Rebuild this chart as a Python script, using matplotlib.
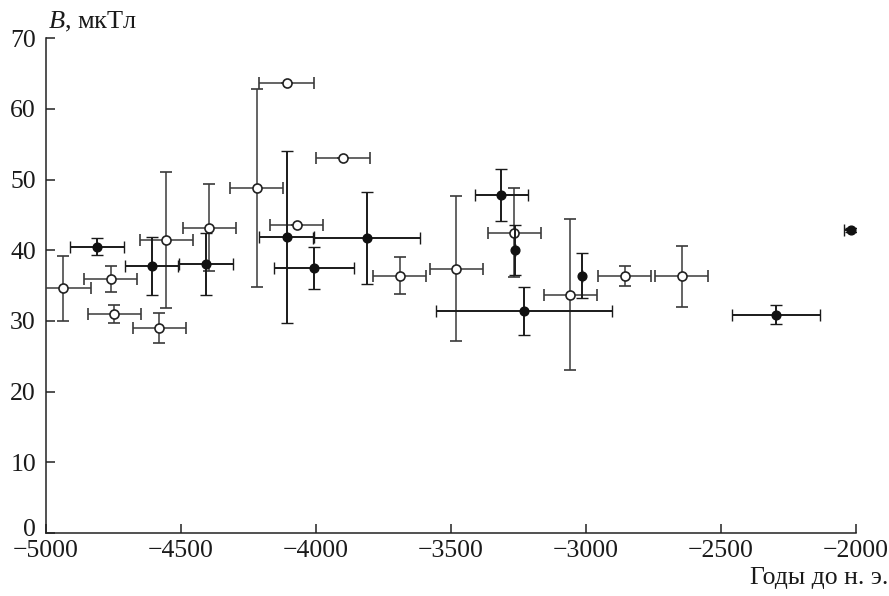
import matplotlib
matplotlib.use('Agg')
import matplotlib.pyplot as plt
import matplotlib.transforms as mtransforms

plt.rcParams['font.family'] = 'Liberation Serif'
plt.rcParams['mathtext.fontset'] = 'custom'
plt.rcParams['mathtext.it'] = 'Liberation Serif:italic'
plt.rcParams['mathtext.rm'] = 'Liberation Serif'

# Field strength estimates, filled symbols
filled_x = [-4810, -4607, -4408, -4108, -4007, -3812, -3313, -3263, -3229, -3015, -2296, -2018]
filled_xerr = [100, 98, 100, 102, 149, 197, 98, 0, 325, 0, 162, 25]
filled_y = [40.5, 37.8, 38.1, 41.9, 37.5, 41.7, 47.8, 40.0, 31.4, 36.4, 30.9, 42.9]
filled_yerr = [1.2, 4.1, 4.4, 12.2, 3.0, 6.5, 3.7, 3.5, 3.4, 3.2, 1.3, 0.3]

# Field strength estimates, open symbols
open_x = [-4937, -4759, -4746, -4580, -4553, -4395, -4218, -4108, -4071, -3899,
          -3690, -3480, -3266, -3059, -2856, -2646]
open_xerr = [104, 98, 98, 98, 97, 98, 98, 102, 98, 100, 98, 98, 98, 98, 98, 99]
open_y = [34.6, 35.9, 31.0, 29.0, 41.4, 43.2, 48.8, 63.7, 43.5, 53.1,
          36.4, 37.4, 42.5, 33.7, 36.4, 36.3]
open_yerr = [4.6, 1.8, 1.3, 2.15, 9.6, 6.1, 14.0, 0, 0, 0,
             2.6, 10.3, 6.3, 10.7, 1.4, 4.3]

x_ticks = [-5000, -4500, -4000, -3500, -3000, -2500, -2000]
y_ticks = [0, 10, 20, 30, 40, 50, 60, 70]

fig = plt.figure(figsize=(8.89, 5.96), dpi=100)
ax = fig.add_axes([0.0514, 0.1057, 0.9116, 0.8303])

ax.errorbar(open_x, open_y, xerr=open_xerr, yerr=open_yerr, fmt='o',
            ms=6.5, mfc='white', mec='#222222', mew=1.2,
            ecolor='#3a3a3a', elinewidth=1.1, capsize=4.3, capthick=1.1, zorder=3)
ax.errorbar(filled_x, filled_y, xerr=filled_xerr, yerr=filled_yerr, fmt='o',
            ms=6.3, mfc='#111111', mec='#111111', mew=1.0,
            ecolor='#1a1a1a', elinewidth=1.4, capsize=4.3, capthick=1.4, zorder=4)

ax.set_xlim(-5000, -2000)
ax.set_ylim(0, 70)
ax.set_xticks(x_ticks)
ax.set_yticks(y_ticks)

for side in ['top', 'right']:
    ax.spines[side].set_visible(False)
for side in ['left', 'bottom']:
    ax.spines[side].set_linewidth(1.1)
    ax.spines[side].set_color('#222222')

ax.tick_params(direction='in', length=6.5, width=1.1, color='#222222',
               labelsize=18.5, labelcolor='#1a1a1a')
ax.tick_params(axis='y', pad=7)
ax.tick_params(axis='x', pad=5)

# nudge the zero label up so it clears the -5000 label
zero_lbl = ax.get_yticklabels()[0]
zero_lbl.set_transform(zero_lbl.get_transform() +
                       mtransforms.ScaledTranslation(0, 6 / 100, fig.dpi_scale_trans))

fig.text(48 / 889, 1 - 28 / 596, r'$B$, мкТл', fontsize=19, color='#1a1a1a',
         ha='left', va='baseline')
fig.text(888 / 889, 1 - 584 / 596, 'Годы до н. э.', fontsize=18.5, color='#1a1a1a',
         ha='right', va='baseline')

fig.savefig('out.png', dpi=100)
